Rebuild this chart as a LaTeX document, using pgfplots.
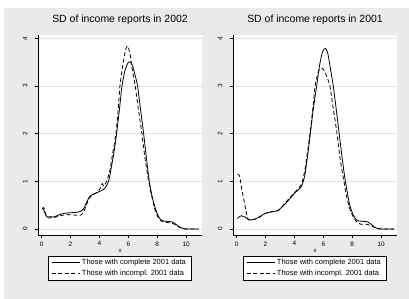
\documentclass[border=0pt]{standalone}
\usepackage{pgfplots}
\pgfplotsset{compat=1.18}
\usepackage{fontspec}
\setmainfont{Liberation Sans}
\definecolor{bggray}{RGB}{234,234,234}
\definecolor{gridgray}{RGB}{226,226,226}
\pgfplotsset{
  sdpanel/.style={
    anchor=south west, width=164bp, height=200bp, scale only axis,
    xmin=-0.25, xmax=11.1, ymin=-0.126, ymax=4.07,
    axis lines=left, axis line style={-, line width=0.6bp, black},
    xtick={0,2,4,6,8,10}, ytick={0,1,2,3,4},
    tick align=outside, major tick length=3bp, tick style={black, line width=0.5bp},
    ymajorgrids, grid style={color=gridgray, line width=0.6bp},
    axis background/.style={fill=white},
    /pgf/number format/assume math mode=true,
    ticklabel style={font=\fontsize{6.5}{7.5}\selectfont},
    yticklabel style={rotate=90, anchor=south, yshift=4bp},
    xlabel={x}, xlabel style={font=\fontsize{6}{7}\selectfont, yshift=4bp},
    title style={font=\fontsize{10.5}{12}\selectfont, at={(0.5,1.045)}, anchor=center},
    legend style={font=\fontsize{7.5}{8.5}\selectfont, draw=black, line width=0.5bp, fill=white,
      at={(0.497,-0.105)}, anchor=north, inner xsep=3bp, inner ysep=1.2bp,
      row sep=0bp, /tikz/every even column/.append style={column sep=4bp}},
    legend cell align=left,
    legend image code/.code={\draw[#1] (0bp,0bp) -- (28bp,0bp);},
  },
  solidc/.style={black, line width=0.8bp, smooth, tension=0.4},
  dashc/.style={black, line width=0.8bp, dash pattern=on 4bp off 2.5bp, smooth, tension=0.4},
}
\begin{document}
\begin{tikzpicture}[x=1bp,y=1bp]
\path[use as bounding box, fill=white] (0,0) rectangle (409,299);
\fill[bggray] (4,0) rectangle (409,291);
% ---------- left panel ----------
\begin{axis}[sdpanel, at={(38bp,64bp)}, title={SD of income reports in 2002}]
\addplot[solidc] coordinates {
(0.05,0.44) (0.15,0.40) (0.3,0.28) (0.4,0.25) (0.6,0.26) (0.8,0.25) (1.0,0.27)
(1.3,0.31) (1.6,0.33) (2.0,0.34) (2.4,0.35) (2.7,0.37) (2.9,0.42) (3.1,0.55)
(3.3,0.67) (3.5,0.72) (3.8,0.76) (4.1,0.80) (4.4,0.86) (4.63,1.0) (4.8,1.25)
(5.0,1.6) (5.19,2.0) (5.4,2.55) (5.56,3.0) (5.75,3.3) (5.95,3.47) (6.13,3.51)
(6.3,3.42) (6.45,3.25) (6.64,3.0) (6.85,2.5) (7.06,2.0) (7.25,1.5) (7.45,1.0)
(7.65,0.68) (7.87,0.43) (8.05,0.29) (8.2,0.21) (8.4,0.17) (8.7,0.16) (9.0,0.15)
(9.2,0.12) (9.5,0.05) (9.8,0.01) (10.0,0.0) (10.85,0.0)};
\addlegendentry{Those with complete 2001 data}
\addplot[dashc] coordinates {
(0.05,0.42) (0.15,0.45) (0.3,0.30) (0.45,0.23) (0.7,0.24) (1.0,0.25) (1.3,0.28)
(1.7,0.30) (2.0,0.30) (2.4,0.29) (2.7,0.29) (2.9,0.35) (3.1,0.50) (3.3,0.65)
(3.6,0.73) (3.9,0.78) (4.1,0.88) (4.2,0.95) (4.3,0.90) (4.5,1.0) (4.7,1.2)
(4.9,1.55) (5.14,2.0) (5.3,2.5) (5.42,3.0) (5.6,3.4) (5.8,3.75) (5.95,3.84)
(6.1,3.7) (6.3,3.3) (6.48,3.0) (6.7,2.5) (6.94,2.0) (7.15,1.5) (7.41,1.0)
(7.65,0.65) (7.85,0.40) (8.05,0.25) (8.3,0.16) (8.6,0.14) (9.0,0.12) (9.2,0.10)
(9.5,0.04) (9.8,0.01) (10.0,0.0) (10.85,0.0)};
\addlegendentry{Those with incompl. 2001 data}
\end{axis}
% ---------- right panel ----------
\begin{axis}[sdpanel, at={(233bp,64bp)}, title={SD of income reports in 2001}]
\addplot[solidc] coordinates {
(0.05,0.22) (0.2,0.26) (0.35,0.28) (0.45,0.26) (0.6,0.25) (0.8,0.20) (1.0,0.19)
(1.3,0.21) (1.6,0.26) (1.93,0.32) (2.3,0.35) (2.6,0.37) (2.83,0.38) (3.1,0.45)
(3.4,0.54) (3.7,0.64) (4.0,0.75) (4.3,0.83) (4.5,0.90) (4.7,1.1) (4.92,1.55)
(5.1,2.0) (5.3,2.5) (5.54,3.0) (5.75,3.45) (5.95,3.72) (6.14,3.79) (6.3,3.7)
(6.5,3.35) (6.69,3.0) (6.9,2.5) (7.1,2.0) (7.3,1.5) (7.5,1.05) (7.7,0.70)
(7.85,0.48) (8.02,0.33) (8.2,0.22) (8.43,0.17) (8.8,0.16) (9.06,0.15) (9.3,0.10)
(9.5,0.05) (9.75,0.01) (10.0,0.0) (10.9,0.0)};
\addlegendentry{Those with complete 2001 data}
\addplot[dashc] coordinates {
(0.05,1.15) (0.2,1.12) (0.35,0.85) (0.55,0.54) (0.7,0.30) (0.83,0.19) (1.0,0.19)
(1.3,0.21) (1.6,0.25) (1.93,0.32) (2.3,0.36) (2.6,0.37) (2.9,0.39) (3.1,0.45)
(3.4,0.56) (3.7,0.66) (4.0,0.76) (4.3,0.86) (4.5,0.95) (4.7,1.2) (4.9,1.6)
(5.1,2.05) (5.3,2.6) (5.43,3.0) (5.65,3.3) (5.8,3.37) (5.95,3.37) (6.1,3.3)
(6.3,3.15) (6.46,3.0) (6.7,2.5) (6.95,2.0) (7.15,1.5) (7.4,1.05) (7.6,0.70)
(7.8,0.45) (8.0,0.30) (8.3,0.15) (8.6,0.10) (9.0,0.10) (9.2,0.08) (9.5,0.04)
(9.8,0.01) (10.0,0.0) (10.9,0.0)};
\addlegendentry{Those with incompl. 2001 data}
\end{axis}
\end{tikzpicture}
\end{document}
